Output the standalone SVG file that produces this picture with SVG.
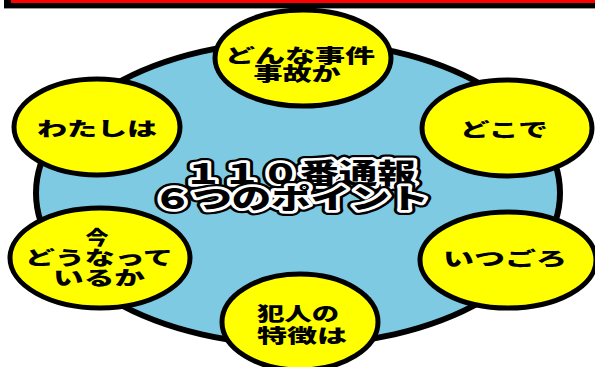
<svg xmlns="http://www.w3.org/2000/svg" width="595" height="367" viewBox="0 0 595 367">
<style>
.node{fill:#FFFF00;stroke:#000;stroke-width:5}
.lbl{font-family:"Noto Sans CJK JP","Noto Sans",sans-serif;font-weight:900;font-size:19px;fill:#000;text-anchor:middle}
.big{font-family:"Noto Sans CJK JP","Noto Sans",sans-serif;font-weight:900;font-size:28px;text-anchor:middle;stroke-linejoin:round}
.o1{fill:none;stroke:#000;stroke-width:10}
.o2{fill:none;stroke:#fff;stroke-width:5.5}
.o3{fill:#000}
</style>
<defs>
<text id="t1" class="big" x="300" y="184" textLength="232" lengthAdjust="spacingAndGlyphs">１１０番通報</text>
<text id="t2" class="big" x="291" y="209" textLength="276" lengthAdjust="spacingAndGlyphs">６つのポイント</text>
</defs>
<rect x="0" y="0" width="595" height="367" fill="#fff"/>
<g id="topbar">
<rect x="4" y="0" width="591" height="8" fill="#000"/>
<rect x="11" y="0" width="584" height="3" fill="#FF0000"/>
<rect x="4" y="8" width="591" height="1" fill="#999"/>
</g>
<g id="connectors"></g>
<g id="center">
<ellipse cx="298" cy="193" rx="262" ry="152" fill="#7DCAE2" stroke="#000" stroke-width="6"/>
<use href="#t1" class="o1"/>
<use href="#t1" class="o2"/>
<use href="#t1" class="o3"/>
<use href="#t2" class="o1"/>
<use href="#t2" class="o2"/>
<use href="#t2" class="o3"/>
</g>
<g id="node-jiken">
<ellipse class="node" cx="303" cy="58" rx="88" ry="48"/>
<text class="lbl" x="300" y="63" textLength="150" lengthAdjust="spacingAndGlyphs">どんな事件</text>
<text class="lbl" x="297" y="81" textLength="87" lengthAdjust="spacingAndGlyphs">事故か</text>
</g>
<g id="node-watashi">
<ellipse class="node" cx="97" cy="127" rx="83" ry="48"/>
<text class="lbl" x="97" y="136" textLength="120" lengthAdjust="spacingAndGlyphs">わたしは</text>
</g>
<g id="node-doko">
<ellipse class="node" cx="507" cy="128" rx="85" ry="48"/>
<text class="lbl" x="504" y="137" textLength="88" lengthAdjust="spacingAndGlyphs">どこで</text>
</g>
<g id="node-ima">
<ellipse class="node" cx="100" cy="258" rx="90" ry="50"/>
<text class="lbl" x="97" y="245" textLength="23" lengthAdjust="spacingAndGlyphs">今</text>
<text class="lbl" x="99" y="265" textLength="148" lengthAdjust="spacingAndGlyphs">どうなって</text>
<text class="lbl" x="99" y="285" textLength="92" lengthAdjust="spacingAndGlyphs">いるか</text>
</g>
<g id="node-itsu">
<ellipse class="node" cx="508" cy="260" rx="88" ry="48"/>
<text class="lbl" x="505" y="266" textLength="124" lengthAdjust="spacingAndGlyphs">いつごろ</text>
</g>
<g id="node-hannin">
<ellipse class="node" cx="300" cy="322" rx="78" ry="48"/>
<text class="lbl" x="298" y="321" textLength="82" lengthAdjust="spacingAndGlyphs">犯人の</text>
<text class="lbl" x="302" y="343" textLength="90" lengthAdjust="spacingAndGlyphs">特徴は</text>
</g>
</svg>
